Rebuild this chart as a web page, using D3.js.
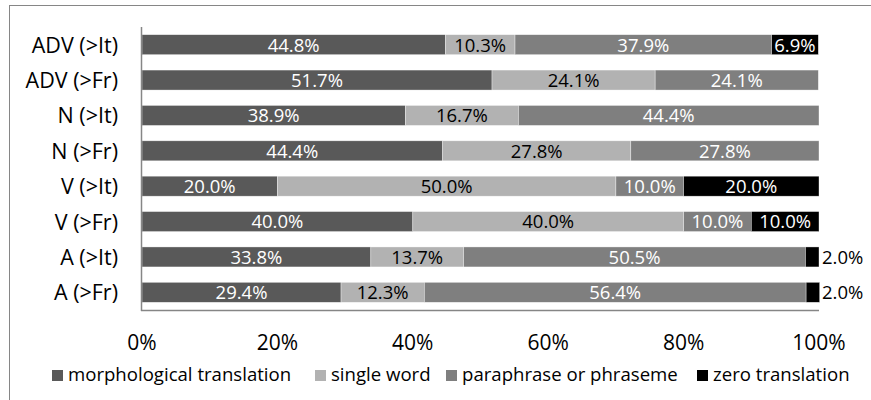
<!DOCTYPE html>
<html><head><meta charset="utf-8">
<script src="https://cdn.jsdelivr.net/npm/d3@7/dist/d3.min.js"></script>
<style>body{margin:0;background:#fff}svg{display:block}text{font-family:"Open Sans",sans-serif}</style>
</head><body><svg id="c" width="871" height="400"></svg>
<script>
const categories = ["ADV (>It)","ADV (>Fr)","N (>It)","N (>Fr)","V (>It)","V (>Fr)","A (>It)","A (>Fr)"];
const seriesNames = ["morphological translation","single word","paraphrase or phraseme","zero translation"];
const morphological = [44.8,51.7,38.9,44.4,20.0,40.0,33.8,29.4];
const singleWord    = [10.3,24.1,16.7,27.8,50.0,40.0,13.7,12.3];
const paraphrase    = [37.9,24.1,44.4,27.8,10.0,10.0,50.5,56.4];
const zeroTrans     = [6.9,0,0,0,20.0,10.0,2.0,2.0];
const xTicks = [0,20,40,60,80,100];

const colors = ["#595959","#b2b2b2","#7f7f7f","#000000"];
const labelColors = ["#fff","#000","#fff","#fff"];
const seriesVals = [morphological, singleWord, paraphrase, zeroTrans];

const svg = d3.select("#c");
// outer chart border
svg.append("rect").attr("x",9.5).attr("y",5.5).attr("width",900).attr("height",500)
  .attr("fill","none").attr("stroke","#868686").attr("stroke-width",1);

const x = d3.scaleLinear().domain([0,100]).range([142,819]);
const y = d3.scaleBand().domain(categories).range([27,310]).paddingInner(0.435).paddingOuter(0.2175);

const rows = categories.map((c,i)=>{
  let acc=0;
  return seriesVals.map((s,k)=>{const v=s[i]; const seg={cat:c,k,v,x0:acc,x1:acc+v}; acc+=v; return seg;});
});

const g = svg.append("g");
rows.forEach(r=>{
  r.filter(d=>d.v>0).forEach(d=>{
    g.append("rect").attr("x",x(d.x0)).attr("y",y(d.cat)).attr("width",x(d.x1)-x(d.x0))
      .attr("height",y.bandwidth()).attr("fill",colors[d.k])
      .attr("stroke","#ffffff").attr("stroke-opacity",0.6).attr("stroke-width",0.6);
  });
});
// data labels
rows.forEach(r=>{
  r.filter(d=>d.v>0).forEach(d=>{
    const w = x(d.x1)-x(d.x0);
    const outside = w < 30;
    g.append("text")
      .attr("x", outside ? x(100)+3 : (x(d.x0)+x(d.x1))/2)
      .attr("y", y(d.cat)+y.bandwidth()/2)
      .attr("dy","0.37em")
      .attr("text-anchor", outside ? "start" : "middle")
      .attr("font-size","18.5px")
      .attr("fill", outside ? "#000" : labelColors[d.k])
      .text(d.v.toFixed(1)+"%");
  });
});

// axis lines
svg.append("line").attr("x1",141.5).attr("x2",141.5).attr("y1",27).attr("y2",311)
  .attr("stroke","#868686").attr("stroke-width",1.5);
svg.append("line").attr("x1",141).attr("x2",819).attr("y1",310.5).attr("y2",310.5)
  .attr("stroke","#868686").attr("stroke-width",1.5);

// category labels
svg.append("g").selectAll("text").data(categories).join("text")
  .attr("x",118).attr("y",d=>y(d)+y.bandwidth()/2).attr("dy","0.37em")
  .attr("text-anchor","end").attr("font-size","21.5px").attr("fill","#000").text(d=>d);

// x tick labels
svg.append("g").selectAll("text").data(xTicks).join("text")
  .attr("x",d=>x(d)).attr("y",350)
  .attr("text-anchor","middle").attr("font-size","21px").attr("fill","#000").text(d=>d+"%");

// legend
const legX = [52,315,446,697];
const leg = svg.append("g");
seriesNames.forEach((n,k)=>{
  leg.append("rect").attr("x",legX[k]).attr("y",370).attr("width",11).attr("height",11).attr("fill",colors[k]);
  leg.append("text").attr("x",legX[k]+16).attr("y",381)
    .attr("font-size","18.6px").attr("fill","#000").text(n);
});
</script></body></html>
